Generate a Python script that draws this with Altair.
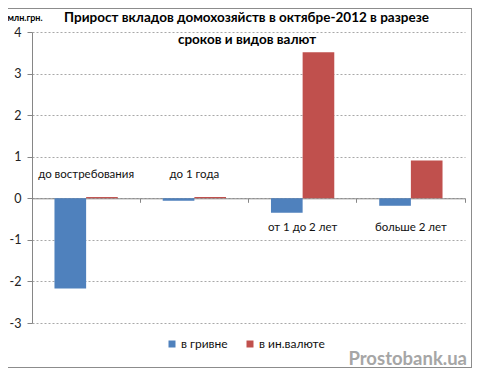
import altair as alt
import pandas as pd

categories = ["до востребования", "до 1 года", "от 1 до 2 лет", "больше 2 лет"]
series = ["в гривне", "в ин.валюте"]
uah = [-2.17, -0.06, -0.35, -0.18]
fx = [0.03, 0.03, 3.51, 0.91]
y_ticks = [-3, -2, -1, 0, 1, 2, 3, 4]
title_lines = ["Прирост вкладов домохозяйств в октябре-2012 в разрезе", "сроков и видов валют"]
unit = "млн.грн."
watermark = "Prostobank.ua"
colors = ["#4F81BD", "#C0504D"]

rows = []
for i, c in enumerate(categories):
    rows.append({"cat": c, "series": series[0], "value": uah[i], "idx": i})
    rows.append({"cat": c, "series": series[1], "value": fx[i], "idx": i})
df = pd.DataFrame(rows)
lab = pd.DataFrame({"cat": categories, "idx": list(range(len(categories)))})

W, H = 433, 291
FONT = "Lato"
GRAY = "#868686"

yscale = alt.Scale(domain=[-3, 4], nice=False, zero=False)
xscale = alt.Scale(domain=categories, paddingInner=0, paddingOuter=0)

bars = alt.Chart(df).mark_bar().encode(
    x=alt.X("cat:N", scale=xscale, sort=categories,
            axis=alt.Axis(labels=False, title=None, domainColor=GRAY, tickColor=GRAY,
                          tickSize=4, bandPosition=1, offset=-124.7, grid=False)),
    xOffset=alt.XOffset("series:N", sort=series,
                        scale=alt.Scale(domain=series, paddingInner=0, paddingOuter=0.71)),
    y=alt.Y("value:Q", scale=yscale, stack=None,
            axis=alt.Axis(values=y_ticks, title=None, domainColor=GRAY, tickColor=GRAY,
                          tickSize=5, labelPadding=6, labelFont=FONT, labelFontSize=12.5,
                          labelColor="#222222", grid=True, gridColor="#a8a8a8",
                          gridDash=[2, 2], labelExpr="toString(datum.value)")),
    color=alt.Color("series:N", scale=alt.Scale(domain=series, range=colors),
                    legend=alt.Legend(orient="none", legendX=134, legendY=306,
                                      direction="horizontal", title=None,
                                      symbolType="square", symbolSize=49,
                                      symbolStrokeWidth=0, labelFont=FONT,
                                      labelFontSize=12, labelColor="#111111",
                                      labelOffset=3, columnPadding=16)),
)

cat_labels = alt.Chart(lab).transform_calculate(
    ly="datum.idx < 2 ? 0.55 : -0.72"
).mark_text(font=FONT, fontSize=11.5, color="#111111").encode(
    x=alt.X("cat:N", scale=xscale, sort=categories),
    y=alt.Y("ly:Q", scale=yscale),
    text="cat:N",
)

t1 = alt.Chart(pd.DataFrame({"t": [title_lines[0]]})).mark_text(
    font=FONT, fontSize=13.5, fontWeight="bold", color="#000000"
).encode(text="t:N", x=alt.value(214.5), y=alt.value(-14))

t2 = alt.Chart(pd.DataFrame({"t": [title_lines[1]]})).mark_text(
    font=FONT, fontSize=13.5, fontWeight="bold", color="#000000"
).encode(text="t:N", x=alt.value(215), y=alt.value(8))

u = alt.Chart(pd.DataFrame({"t": [unit]})).mark_text(
    font=FONT, fontSize=9, fontWeight="bold", color="#000000"
).encode(text="t:N", x=alt.value(-7), y=alt.value(-14))

wm = alt.Chart(pd.DataFrame({"t": [watermark]})).mark_text(
    font=FONT, fontSize=18.5, fontWeight="bold", color="#a6a6a6", align="right"
).encode(text="t:N", x=alt.value(435), y=alt.value(327))

frame = pd.DataFrame({"t": [0]})
top_line = alt.Chart(frame).mark_rule(color="#8c8c8c", strokeWidth=1).encode(
    x=alt.value(-24), x2=alt.value(440), y=alt.value(-23.5))
right_line = alt.Chart(frame).mark_rule(color="#8c8c8c", strokeWidth=1).encode(
    x=alt.value(439.5), y=alt.value(-24), y2=alt.value(336))
bottom_line = alt.Chart(frame).mark_rule(color="#8c8c8c", strokeWidth=1).encode(
    x=alt.value(-24), x2=alt.value(440), y=alt.value(335.5))

chart = alt.layer(top_line, right_line, bottom_line, bars, cat_labels, t1, t2, u, wm).properties(
    width=W, height=H,
    padding={"left": 24, "top": 24, "right": 7, "bottom": 45},
    autosize=alt.AutoSizeParams(type="none"),
    background="white",
).configure_view(strokeWidth=0)

chart.save("out.html", embed_options={"renderer": "svg", "actions": False})
